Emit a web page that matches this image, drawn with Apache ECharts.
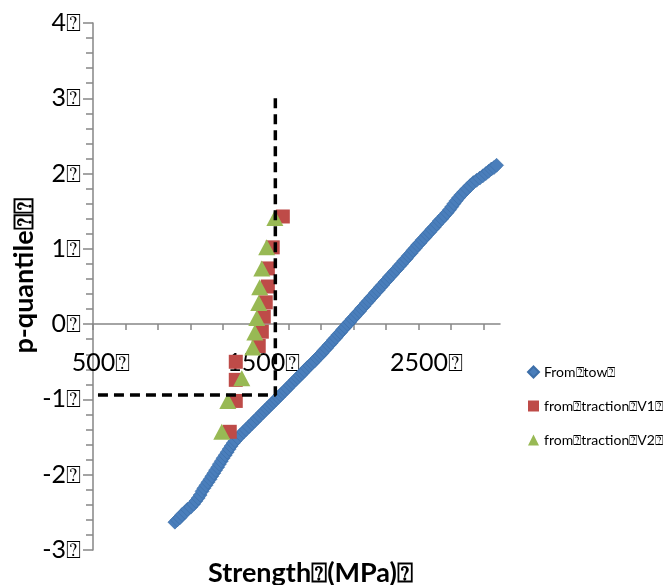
<!DOCTYPE html>
<html>
<head>
<meta charset="utf-8">
<script src="https://cdn.jsdelivr.net/npm/echarts@6/dist/echarts.min.js"></script>
<style>html,body{margin:0;padding:0;background:#fff;}#chart{width:668px;height:585px;}</style>
</head>
<body>
<div id="chart"></div>
<script>
// ---- data ----
const seriesNames = ['From\u2370tow\u2370', 'from\u2370traction\u2370V1\u2370', 'from\u2370traction\u2370V2\u2370'];
const xTickLabels = [500, 1500, 2500];
const yTickLabels = [-3, -2, -1, 0, 1, 2, 3, 4];

const towStrength = [1003,1018,1034,1047,1066,1080,1101,1118,1132,1146,1158,1170,1181,1194,1206,1219,1230,1242,1253,1266,1276,1288,1299,1312,1324,1336,1348,1361,1373,1390,1407,1426,1440,1458,1477,1491,1509,1523,1541,1555,1569,1583,1597,1611,1625,1639,1652,1666,1680,1694,1712,1726,1744,1758,1772,1786,1800,1815,1831,1846,1860,1876,1891,1905,1919,1934,1949,1963,1977,1992,2006,2020,2034,2049,2063,2078,2093,2107,2122,2137,2150,2165,2179,2193,2208,2222,2236,2251,2265,2279,2294,2308,2322,2337,2352,2366,2381,2395,2409,2424,2438,2452,2466,2480,2494,2509,2523,2538,2553,2567,2582,2597,2612,2627,2643,2658,2675,2690,2704,2717,2731,2746,2762,2780,2798,2817,2836,2856,2876,2895,2913,2930,2947,2963,2979];
const towQuantile = [-2.63,-2.60,-2.57,-2.53,-2.50,-2.46,-2.43,-2.39,-2.35,-2.31,-2.27,-2.22,-2.18,-2.14,-2.10,-2.06,-2.02,-1.98,-1.94,-1.90,-1.86,-1.82,-1.78,-1.74,-1.70,-1.66,-1.62,-1.58,-1.55,-1.51,-1.47,-1.43,-1.40,-1.36,-1.32,-1.29,-1.25,-1.22,-1.18,-1.15,-1.12,-1.09,-1.06,-1.03,-1.00,-0.97,-0.94,-0.91,-0.88,-0.85,-0.81,-0.78,-0.74,-0.71,-0.68,-0.65,-0.62,-0.58,-0.55,-0.52,-0.49,-0.45,-0.42,-0.39,-0.35,-0.32,-0.28,-0.25,-0.21,-0.18,-0.14,-0.11,-0.07,-0.04,0.00,0.03,0.07,0.10,0.14,0.17,0.21,0.24,0.28,0.31,0.35,0.38,0.42,0.45,0.49,0.52,0.56,0.59,0.63,0.66,0.70,0.73,0.77,0.80,0.84,0.87,0.91,0.94,0.98,1.01,1.05,1.08,1.12,1.15,1.19,1.22,1.26,1.29,1.33,1.37,1.40,1.44,1.48,1.52,1.56,1.60,1.64,1.68,1.72,1.76,1.80,1.84,1.88,1.91,1.94,1.97,2.00,2.03,2.06,2.08,2.11];

const v1Strength = [1340,1377,1377,1377,1518,1537,1549,1561,1574,1574,1604,1666];
const v1Quantile = [-1.43,-1.02,-0.74,-0.50,-0.29,-0.10,0.10,0.29,0.50,0.74,1.02,1.43];

const v2Strength = [1291,1328,1414,1481,1494,1506,1518,1524,1537,1567,1617];
const v2Quantile = [-1.43,-1.02,-0.72,-0.31,-0.11,0.08,0.28,0.49,0.74,1.02,1.41];

const guideStrength = [1620,1620,500];
const guideQuantile = [3,-0.94,-0.94];

const xName = 'Strength\u2370(MPa)\u2370';
const yName = 'p-quantile\u2370\u2370';

// ---- build ----
const zip = (a, b) => a.map((v, i) => [v, b[i]]);
const FONT = 'Lato, "Open Sans", sans-serif';
const axisGray = '#868686';
const GRID = {left: 93, right: 168, top: 23, bottom: 35};
const Y_MIN = -3, Y_MAX = 4;
const plotH = 585 - GRID.top - GRID.bottom;
// move the x axis (line, ticks, labels, name) up to y = 0
const zeroOffset = -Math.round(plotH * (0 - Y_MIN) / (Y_MAX - Y_MIN));

const chart = echarts.init(document.getElementById('chart'), null, {renderer: 'canvas'});
chart.setOption({
  animation: false,
  backgroundColor: '#ffffff',
  textStyle: {fontFamily: FONT},
  grid: Object.assign({containLabel: false, outerBoundsMode: 'none'}, GRID),
  legend: {
    orient: 'vertical', left: 522, top: 360, itemGap: 20,
    itemWidth: 11, itemHeight: 11,
    textStyle: {fontFamily: FONT, fontSize: 14, color: '#000'},
    data: [
      {name: seriesNames[0], icon: 'diamond'},
      {name: seriesNames[1], icon: 'rect'},
      {name: seriesNames[2], icon: 'triangle'}
    ]
  },
  xAxis: {
    type: 'value', min: 500, max: 3000, interval: 200,
    position: 'bottom', offset: zeroOffset,
    axisLine: {onZero: false, lineStyle: {color: axisGray, width: 1.5}},
    axisTick: {show: true, length: 6, lineStyle: {color: axisGray, width: 1.5}},
    splitLine: {show: false},
    axisLabel: {
      fontFamily: FONT, fontSize: 25, color: '#000', margin: 26,
      showMaxLabel: false, alignMinLabel: 'center', alignMaxLabel: 'center',
      padding: [0, 0, 0, 16],
      formatter: v => (xTickLabels.indexOf(v) >= 0 ? v + '\u2370' : '')
    },
    name: xName, nameLocation: 'middle', nameGap: 236, nameMoveOverlap: false,
    nameTextStyle: {fontFamily: FONT, fontSize: 27, fontWeight: 'bold', color: '#000', padding: [0, 0, 0, 28]}
  },
  yAxis: {
    type: 'value', min: Y_MIN, max: Y_MAX, interval: 1,
    axisLine: {show: true, onZero: false, lineStyle: {color: axisGray, width: 1.5}},
    axisTick: {show: true, length: 10, lineStyle: {color: axisGray, width: 1.5}},
    minorTick: {show: true, splitNumber: 5, length: 7, lineStyle: {color: axisGray, width: 1.5}},
    splitLine: {show: false},
    axisLabel: {
      fontFamily: FONT, fontSize: 25, color: '#000', margin: 12,
      formatter: v => (yTickLabels.indexOf(v) >= 0 ? v + '\u2370' : '')
    },
    name: yName, nameLocation: 'middle', nameGap: 55, nameMoveOverlap: false,
    nameTextStyle: {fontFamily: FONT, fontSize: 27, fontWeight: 'bold', color: '#000', padding: [0, 0, 0, 21]}
  },
  series: [
    {
      name: seriesNames[0], type: 'scatter', symbol: 'diamond', symbolSize: 14,
      itemStyle: {color: '#4a7ebb', borderColor: '#3c6ea8', borderWidth: 0.6, opacity: 1},
      data: zip(towStrength, towQuantile), z: 2
    },
    {
      name: seriesNames[1], type: 'scatter', symbol: 'rect', symbolSize: 14,
      itemStyle: {color: '#be4b48', opacity: 1},
      data: zip(v1Strength, v1Quantile), z: 3
    },
    {
      name: seriesNames[2], type: 'scatter', symbol: 'triangle', symbolSize: [17, 16],
      itemStyle: {color: '#98b954', opacity: 1},
      data: zip(v2Strength, v2Quantile), z: 4
    },
    {
      name: 'guide', type: 'line', symbol: 'none', silent: true,
      lineStyle: {color: '#000', width: 3.5, type: [10, 6]},
      data: zip(guideStrength, guideQuantile), z: 5
    }
  ]
});
</script>
</body>
</html>
